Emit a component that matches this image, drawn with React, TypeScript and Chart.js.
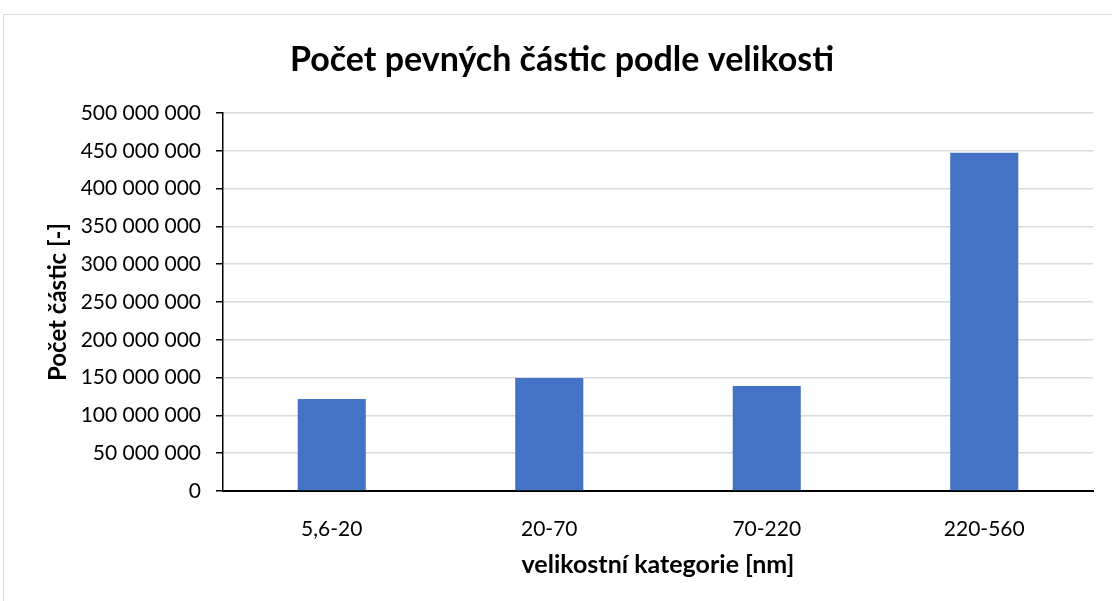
import React, { useEffect, useRef } from "react";
import { Chart, registerables } from "chart.js";

Chart.register(...registerables);

const categories = ["5,6-20", "20-70", "70-220", "220-560"];
const particleCounts = [121700000, 149500000, 138900000, 447500000];
const titleText = "Počet pevných částic podle velikosti";
const xTitle = "velikostní kategorie [nm]";
const yTitle = "Počet částic [-]";
const yMin = 0;
const yMax = 500000000;
const yStep = 50000000;

const FONT = "Lato, 'Open Sans', sans-serif";

function fmt(v: number): string {
  return String(Math.round(v)).replace(/\B(?=(\d{3})+(?!\d))/g, " ");
}

export default function App() {
  const ref = useRef<HTMLCanvasElement | null>(null);

  useEffect(() => {
    if (!ref.current) return;
    const chart = new Chart(ref.current, {
      type: "bar",
      data: {
        labels: categories,
        datasets: [
          {
            data: particleCounts,
            backgroundColor: "#4472C4",
            borderWidth: 0,
            barPercentage: 0.313,
            categoryPercentage: 1,
          },
        ],
      },
      options: {
        responsive: false,
        animation: false,
        devicePixelRatio: 1,
        layout: { padding: { left: 31, right: 19, top: 0, bottom: 21 } },
        plugins: {
          legend: { display: false },
          tooltip: { enabled: false },
          title: {
            display: true,
            text: titleText,
            color: "#000",
            font: { family: FONT, size: 34, weight: "bold" },
            padding: { top: 39.6, bottom: 32.6 },
          },
        },
        scales: {
          x: {
            afterFit: (scale: any) => {
              scale.height = 89;
            },
            grid: { display: false, drawTicks: false },
            border: { display: true, color: "#000", width: 2 },
            ticks: {
              color: "#000",
              padding: 26,
              font: { family: FONT, size: 21 },
            },
            title: {
              display: true,
              text: xTitle,
              color: "#000",
              font: { family: FONT, size: 25, weight: "bold" },
              padding: { top: 10, bottom: 0 },
            },
          },
          y: {
            min: yMin,
            max: yMax,
            afterFit: (scale: any) => {
              scale.width = 192;
            },
            grid: {
              color: (ctx: any) =>
                ctx.tick && ctx.tick.value === 0 ? "rgba(0,0,0,0)" : "#d9d9d9",
              lineWidth: 1.5,
              tickColor: "#000",
              tickLength: 7,
            },
            border: { display: true, color: "#000", width: 1.5 },
            ticks: {
              stepSize: yStep,
              color: "#000",
              padding: 15,
              font: { family: FONT, size: 21 },
              callback: (v: any) => fmt(Number(v)),
            },
            title: {
              display: true,
              text: yTitle,
              color: "#000",
              font: { family: FONT, size: 24, weight: "bold" },
              padding: { top: 12.6, bottom: 0 },
            },
          },
        },
      },
    });
    return () => chart.destroy();
  }, []);

  return (
    <div
      style={{
        position: "absolute",
        left: 0,
        top: 0,
        width: 1112,
        height: 601,
        background: "#fff",
        overflow: "hidden",
      }}
    >
      <div
        style={{
          position: "absolute",
          left: 3,
          top: 14,
          width: 1200,
          height: 700,
          borderLeft: "1px solid #d9d9d9",
          borderTop: "1px solid #d9d9d9",
        }}
      />
      <canvas
        ref={ref}
        width={1112}
        height={601}
        style={{ position: "absolute", left: 0, top: 0 }}
      />
    </div>
  );
}
